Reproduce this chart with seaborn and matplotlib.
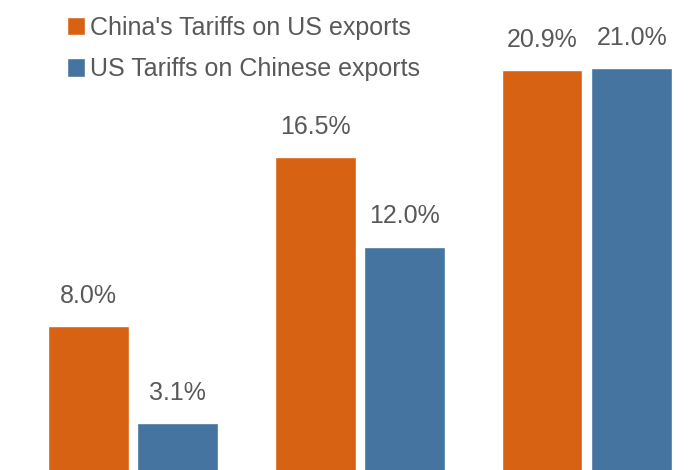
import pandas as pd
import numpy as np
import matplotlib.pyplot as plt
import seaborn as sns

# Data
periods = ["Period 1", "Period 2", "Period 3"]
china_on_us = [8.0, 16.5, 20.9]
us_on_china = [3.1, 12.0, 21.0]
series = ["China's Tariffs on US exports", "US Tariffs on Chinese exports"]

df = pd.DataFrame({
    "period": periods * 2,
    "series": [series[0]] * 3 + [series[1]] * 3,
    "tariff": china_on_us + us_on_china,
})

sns.set_theme(style="white")
plt.rcParams['font.family'] = ['Liberation Sans', 'DejaVu Sans']

fig = plt.figure(figsize=(7, 4.7), dpi=100)
ax = fig.add_axes([0, 0, 1, 1])

sns.barplot(
    data=df,
    x="period",
    y="tariff",
    hue="series",
    palette=["#D86213", "#44749F"],
    width=0.79,
    gap=0.1,
    saturation=1,
    ax=ax,
)

grey = "#595959"
for c in ax.containers:
    ax.bar_label(c, labels=[f"{v:.1f}%" for v in c.datavalues],
                 padding=13, fontsize=18, color=grey)

ax.set_xlim(-0.586, 2.498)
ax.set_ylim(0.76, 24.4)
ax.set_axis_off()

h, l = ax.get_legend_handles_labels()
ax.legend(h, l, loc="upper left", bbox_to_anchor=(0.081, 0.988),
          frameon=False, fontsize=18, labelcolor=grey,
          handlelength=0.75, handleheight=0.75, handletextpad=0.2,
          labelspacing=0.7, borderaxespad=0)

fig.savefig("out.png", dpi=100)
